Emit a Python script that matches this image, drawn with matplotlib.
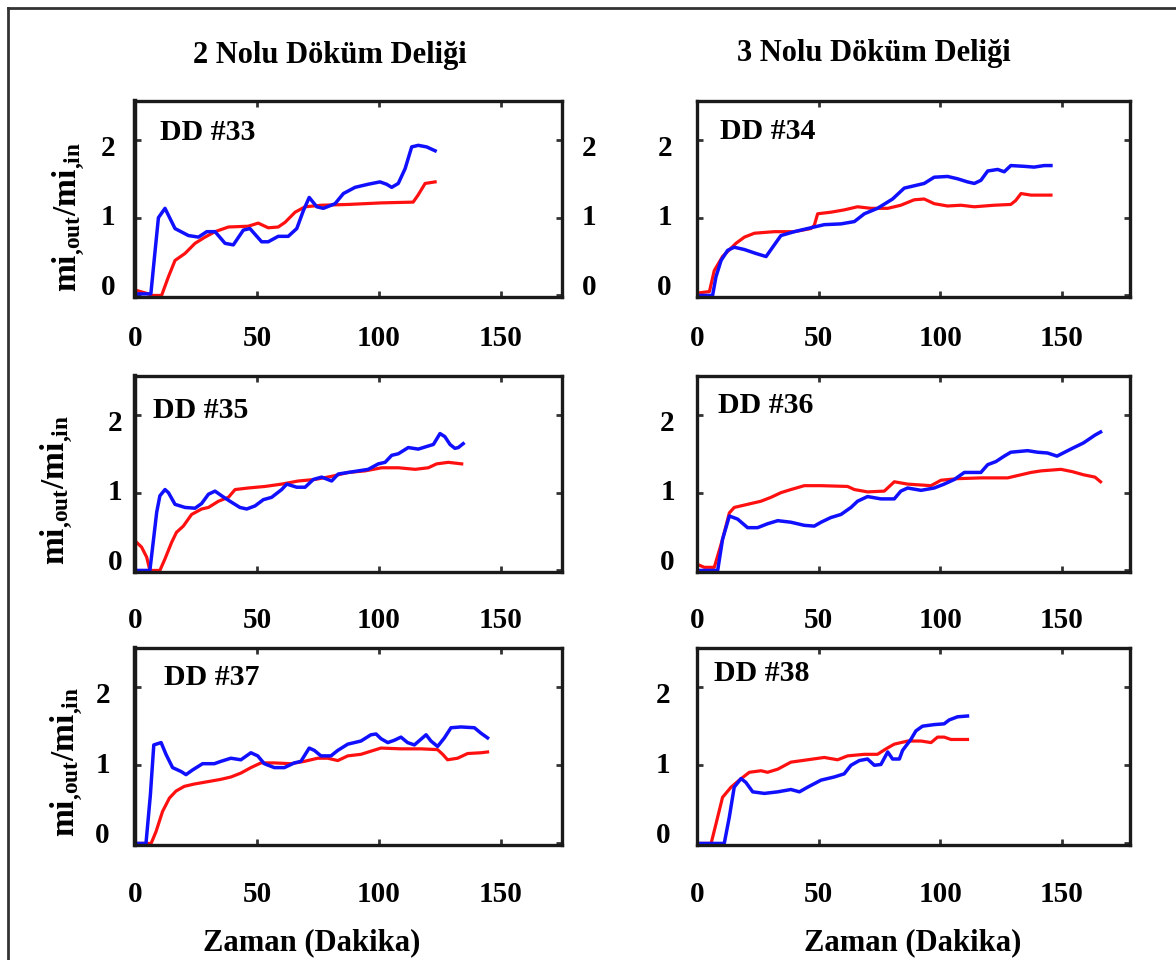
import matplotlib
matplotlib.use("Agg")
import matplotlib.pyplot as plt
from matplotlib.lines import Line2D
from matplotlib.transforms import ScaledTranslation

plt.rcParams['font.family'] = ['Liberation Serif', 'DejaVu Serif']
plt.rcParams['font.weight'] = 'bold'
plt.rcParams['mathtext.fontset'] = 'custom'
plt.rcParams['mathtext.rm'] = 'Liberation Serif:bold'
plt.rcParams['mathtext.bf'] = 'Liberation Serif:bold'
plt.rcParams['mathtext.it'] = 'Liberation Serif:bold'

col_titles = ["2 Nolu Döküm Deliği", "3 Nolu Döküm Deliği"]
panel_names = ["DD #33", "DD #34", "DD #35", "DD #36", "DD #37", "DD #38"]
x_ticks = [0, 50, 100, 150]
y_ticks = [0, 1, 2]
x_label = "Zaman (Dakika)"
y_label = r"$\mathbf{mi}_{\mathbf{{,}out}}/\mathbf{mi}_{\mathbf{{,}in}}$"

# DD #33
t33_blue = [0, 6.5, 8, 9.6, 12.3, 16.4, 21.9, 26, 29.4, 32.8, 36.9, 40.3, 44.4, 47.1, 51.9, 54.6,
            58.7, 62.8, 66.3, 69, 71.4, 74.5, 77.2, 82, 85.4, 90.2, 95.6, 100.4, 103.1, 105.2,
            107.9, 110.7, 113.4, 116.1, 119.5, 123]
y33_blue = [0.02, 0.02, 0.5, 1.0, 1.12, 0.86, 0.77, 0.75, 0.82, 0.82, 0.67, 0.65, 0.84, 0.86, 0.69, 0.69,
            0.76, 0.76, 0.86, 1.09, 1.26, 1.14, 1.12, 1.18, 1.31, 1.39, 1.43, 1.46, 1.43, 1.39,
            1.44, 1.63, 1.91, 1.93, 1.91, 1.86]
t33_red = [0, 5.5, 7, 10.9, 13.7, 16.4, 20.5, 24.6, 28.7, 32.8, 38.3, 46.4, 50.5, 54.6, 58.7, 61.5,
           65.6, 69.7, 76.5, 87.4, 101, 114, 116, 118.9, 123]
y33_red = [0.07, 0.02, 0.0, 0.0, 0.24, 0.45, 0.54, 0.67, 0.75, 0.82, 0.88, 0.89, 0.93, 0.87, 0.88, 0.94,
           1.07, 1.14, 1.16, 1.17, 1.19, 1.20, 1.29, 1.44, 1.46]

# DD #34
t34_blue = [0, 6.4, 7.8, 9.9, 12.6, 15.3, 19.5, 24.2, 28.4, 31.1, 34.5, 40, 46.8, 52.3, 59.2, 64.7,
            68.8, 74.2, 80.4, 85.2, 89.3, 93.4, 97.5, 103, 107.1, 111.2, 114, 116.7, 119.5, 123.6,
            126.3, 129, 134.5, 138.6, 142.7, 145.5]
y34_blue = [0.0, 0.0, 0.24, 0.45, 0.58, 0.62, 0.59, 0.54, 0.50, 0.62, 0.77, 0.82, 0.87, 0.91, 0.92, 0.95,
            1.05, 1.12, 1.24, 1.38, 1.41, 1.44, 1.52, 1.53, 1.50, 1.46, 1.44, 1.48, 1.60, 1.62,
            1.59, 1.67, 1.66, 1.65, 1.67, 1.67]
t34_red = [0, 5.1, 7.1, 10.5, 16, 19.5, 23.6, 31.8, 40, 46.8, 48.2, 49.6, 55, 60.5, 66, 71.5, 78.4,
           83.8, 89.3, 93.4, 97.5, 103, 108.5, 114, 122.2, 129, 131, 133.2, 137.3, 145.5]
y34_red = [0.03, 0.05, 0.32, 0.50, 0.67, 0.75, 0.80, 0.82, 0.82, 0.86, 0.90, 1.05, 1.07, 1.10, 1.14, 1.12, 1.12,
           1.16, 1.23, 1.24, 1.18, 1.15, 1.16, 1.14, 1.16, 1.17, 1.22, 1.31, 1.29, 1.29]

# DD #35
t35_blue = [0, 6.1, 8.9, 10.2, 12.3, 13.7, 16.4, 20.5, 24.6, 27.3, 30.1, 32.8, 35.5, 38.9, 43, 45.8,
            49.2, 52.6, 56, 60.1, 62.2, 66.3, 69.7, 73.1, 76.5, 80.6, 83.3, 87.4, 91.5, 95.6, 99.7,
            102.5, 105.2, 107.9, 112, 116.1, 120.2, 122.3, 125, 127, 129.1, 131.1, 132.5, 134.5]
y35_blue = [0.0, 0.0, 0.75, 0.96, 1.04, 1.0, 0.85, 0.81, 0.80, 0.86, 0.98, 1.02, 0.96, 0.89, 0.81, 0.79,
            0.83, 0.91, 0.94, 1.04, 1.11, 1.07, 1.07, 1.17, 1.20, 1.15, 1.24, 1.26, 1.28, 1.30, 1.37,
            1.39, 1.48, 1.50, 1.58, 1.56, 1.60, 1.62, 1.76, 1.72, 1.62, 1.57, 1.58, 1.63]
t35_red = [0, 2.7, 4.8, 6.1, 10.2, 12.3, 15, 17, 19.8, 23.2, 27.3, 30.1, 34.2, 38.3, 41, 46.4, 53.3,
           60.1, 66.9, 73.8, 80.6, 87.4, 94.3, 101.1, 108, 114.8, 120.2, 123.6, 128.4, 133.9]
y35_red = [0.38, 0.30, 0.17, 0.0, 0.0, 0.15, 0.36, 0.49, 0.57, 0.72, 0.79, 0.81, 0.89, 0.94, 1.04, 1.06, 1.08,
           1.11, 1.15, 1.17, 1.21, 1.26, 1.28, 1.32, 1.32, 1.30, 1.32, 1.37, 1.39, 1.37]

# DD #36
t36_blue = [0, 8.5, 10.5, 13.3, 16.7, 20.8, 24.9, 29, 33.2, 38.6, 44.1, 48.2, 51, 55, 59.2, 63.3, 66,
            70.1, 75.6, 81.1, 83.8, 86.6, 92.1, 97.5, 101.6, 105.8, 109.9, 116.7, 119.5, 122.9,
            126.3, 129, 135.9, 140, 144.1, 148, 154.3, 158.9, 163.6, 165.9]
y36_blue = [0.0, 0.0, 0.40, 0.70, 0.66, 0.55, 0.55, 0.60, 0.64, 0.62, 0.58, 0.57, 0.62, 0.68, 0.72, 0.81, 0.89,
            0.95, 0.92, 0.92, 1.02, 1.06, 1.03, 1.06, 1.11, 1.17, 1.26, 1.26, 1.36, 1.40,
            1.47, 1.52, 1.54, 1.52, 1.51, 1.47, 1.57, 1.64, 1.74, 1.78]
t36_red = [0, 3, 7.1, 10.5, 13.3, 15.3, 20.8, 26.3, 30.4, 34.5, 38.6, 44.1, 51, 61.9, 64.7, 70.1, 77,
           81.1, 86.6, 96.2, 100.3, 107.1, 116.7, 127.7, 131.8, 137.3, 141.4, 145.5, 149.6, 154.3,
           158.9, 163.6, 165.9]
y36_red = [0.08, 0.04, 0.04, 0.40, 0.74, 0.81, 0.85, 0.89, 0.94, 1.00, 1.04, 1.09, 1.09, 1.08, 1.04, 1.01, 1.02,
           1.14, 1.11, 1.09, 1.16, 1.18, 1.19, 1.19, 1.22, 1.26, 1.28, 1.29, 1.30, 1.27,
           1.23, 1.20, 1.14]

# DD #37
t37_blue = [0, 4.5, 6.3, 7.7, 10.7, 12.7, 15.4, 18.9, 20.9, 23.6, 27.7, 32.5, 35.2, 39.3, 43.4, 47.5,
            50.3, 53, 57.1, 61.2, 65.3, 68, 71.4, 73.5, 76.2, 80.3, 83.1, 87.2, 92.6, 96.7, 98.8,
            100.8, 103.6, 106.3, 109, 111.7, 114.5, 119.3, 121.3, 124, 126.8, 129.5, 133.6, 139.1,
            141.8, 144.5]
y37_blue = [0.0, 0.0, 0.62, 1.26, 1.29, 1.14, 0.97, 0.92, 0.88, 0.94, 1.02, 1.02, 1.05, 1.09, 1.07, 1.16,
            1.12, 1.02, 0.97, 0.97, 1.03, 1.05, 1.22, 1.19, 1.12, 1.12, 1.19, 1.27, 1.31, 1.39, 1.40,
            1.34, 1.29, 1.32, 1.36, 1.29, 1.26, 1.39, 1.31, 1.24, 1.35, 1.48, 1.49, 1.48,
            1.41, 1.35]
t37_red = [0, 6.6, 8.6, 11.3, 14.1, 16.8, 20.2, 24.3, 29.8, 35.2, 39.3, 43.4, 47.5, 51.6, 57.1, 63.9,
           69.4, 74.9, 79, 83.1, 87.2, 92.6, 96.7, 100.8, 109, 117.2, 124, 126.1, 128.1, 132.2,
           136.3, 141.8, 144.5]
y37_red = [0.0, 0.0, 0.15, 0.41, 0.58, 0.67, 0.73, 0.76, 0.79, 0.82, 0.85, 0.90, 0.97, 1.03, 1.03, 1.02,
           1.05, 1.09, 1.09, 1.06, 1.12, 1.14, 1.18, 1.22, 1.21, 1.21, 1.20, 1.14, 1.07, 1.09,
           1.15, 1.16, 1.17]

# DD #38
t38_blue = [0, 11.2, 13.3, 15.3, 18.1, 20.1, 22.9, 27.7, 33.2, 38.6, 42.1, 45.5, 51, 56.4, 60.5, 63.3,
            66.7, 70.1, 72.9, 75.6, 78.4, 80.4, 83.2, 84.5, 87.9, 90, 92.7, 97.5, 101.6, 103.7,
            107.1, 111.2]
y38_blue = [0.0, 0.0, 0.34, 0.72, 0.83, 0.78, 0.66, 0.64, 0.66, 0.69, 0.66, 0.72, 0.81, 0.85, 0.89, 1.0,
            1.06, 1.08, 1.0, 1.01, 1.17, 1.08, 1.08, 1.19, 1.33, 1.44, 1.50, 1.52, 1.53, 1.58,
            1.62, 1.63]
t38_red = [0, 5.8, 7.8, 10.5, 14, 17.4, 21.5, 26.3, 29, 33.2, 38.6, 45.5, 52.3, 57.8, 61.9, 68.8,
           74.2, 77.7, 81.1, 86.6, 92.1, 96.2, 98.9, 101.6, 104.4, 111.2]
y38_red = [0.0, 0.0, 0.25, 0.59, 0.72, 0.81, 0.91, 0.93, 0.91, 0.95, 1.04, 1.07, 1.10, 1.07, 1.12, 1.14,
           1.14, 1.21, 1.27, 1.31, 1.31, 1.29, 1.36, 1.36, 1.33, 1.33]

series = [
    (t33_blue, y33_blue, t33_red, y33_red),
    (t34_blue, y34_blue, t34_red, y34_red),
    (t35_blue, y35_blue, t35_red, y35_red),
    (t36_blue, y36_blue, t36_red, y36_red),
    (t37_blue, y37_blue, t37_red, y37_red),
    (t38_blue, y38_blue, t38_red, y38_red),
]

W, H = 1176, 960
fig = plt.figure(figsize=(W / 100, H / 100), dpi=100)

# pixel boxes of the panels
col_left = [135, 697]
col_width = [427, 433]
col_xmax = [175, 178]
row_top = [101, 376, 648]
row_height = [196, 196, 197]

# per panel: (ytick pad, xtick pad, name x, name y)
layout = [
    (16, 20, 0.059, 0.84),
    (18, 20, 0.053, 0.845),
    (9, 25, 0.042, 0.826),
    (16, 25, 0.049, 0.847),
    (18, 26, 0.068, 0.848),
    (19, 26, 0.039, 0.873),
]
# vertical nudges for the 0 / 1 / 2 tick labels, in points
ylab_dy = [8, 2, -4]

for i, (tb, yb, tr, yr) in enumerate(series):
    r, c = divmod(i, 2)
    left = col_left[c] / W
    bottom = 1 - (row_top[r] + row_height[r]) / H
    ax = fig.add_axes([left, bottom, col_width[c] / W, row_height[r] / H])
    ax.plot(tr, yr, color='#ff1010', lw=2.3, solid_joinstyle='round')
    ax.plot(tb, yb, color='#1010ff', lw=2.5, solid_joinstyle='round')
    ax.set_xlim(0, col_xmax[c])
    ax.set_ylim(-0.02, 2.5)

    ypad, xpad, nx, ny = layout[i]
    ax.set_xticks(x_ticks)
    ax.set_yticks(y_ticks)
    ax.tick_params(direction='in', length=4, width=2, color='#333333',
                   top=True, right=True, labelsize=21)
    ax.tick_params(axis='y', pad=ypad)
    ax.tick_params(axis='x', pad=xpad)
    if i == 0:
        ax.tick_params(axis='y', labelright=True, pad=14)
    for lab in ax.get_xticklabels() + ax.get_yticklabels():
        lab.set_fontweight('bold')
    for tick, dy in zip(ax.yaxis.get_major_ticks(), ylab_dy):
        off = ScaledTranslation(0, dy / 72, fig.dpi_scale_trans)
        tick.label1.set_transform(tick.label1.get_transform() + off)
        tick.label2.set_transform(tick.label2.get_transform() + off)

    for side, sp in ax.spines.items():
        sp.set_linewidth(2.4)
        sp.set_color('#1a1a1a')
    if c == 0:
        ax.spines['left'].set_linewidth(3.2)

    ax.text(nx, ny, panel_names[i], transform=ax.transAxes, fontsize=21.5,
            fontweight='bold', ha='left', va='center')

# column headings
fig.text(330 / W, 1 - 55 / H, col_titles[0], fontsize=22, fontweight='bold', ha='center', va='center')
fig.text(874 / W, 1 - 53 / H, col_titles[1], fontsize=22, fontweight='bold', ha='center', va='center')

# shared axis titles
for x, y in [(69, 217), (57, 490), (67, 762)]:
    fig.text(x / W, 1 - y / H, y_label, fontsize=24, rotation=90, ha='center', va='center')
fig.text(312 / W, 1 - 943 / H, x_label, fontsize=22, fontweight='bold', ha='center', va='center')
fig.text(913 / W, 1 - 943 / H, x_label, fontsize=22, fontweight='bold', ha='center', va='center')

# outer frame (top and left edges)
fx, fy = 8 / W, 1 - 8 / H
fig.add_artist(Line2D([fx, 1.0], [fy, fy], transform=fig.transFigure, color='#333333', lw=2))
fig.add_artist(Line2D([fx, fx], [0.0, fy], transform=fig.transFigure, color='#333333', lw=2))

fig.savefig("out.png", dpi=100)
